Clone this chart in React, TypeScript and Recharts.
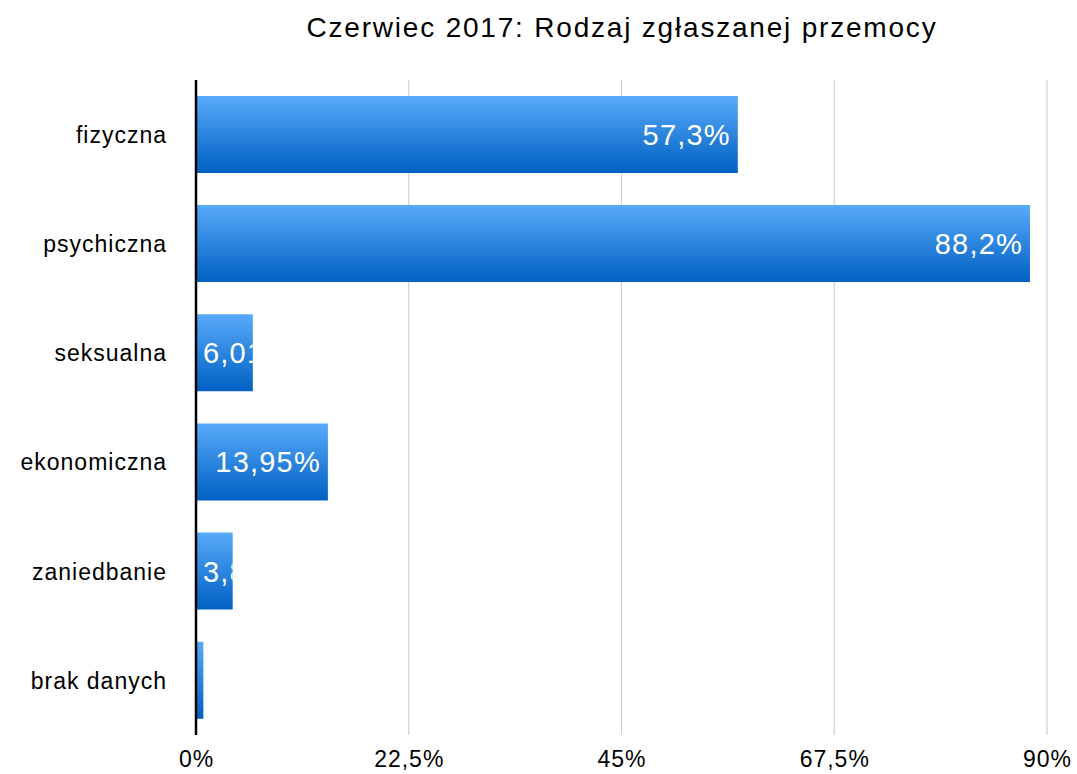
import React from "react";
import { BarChart, Bar, XAxis, YAxis, CartesianGrid, LabelList } from "recharts";

const categories = ["fizyczna", "psychiczna", "seksualna", "ekonomiczna", "zaniedbanie", "brak danych"];
const values = [57.3, 88.2, 6.01, 13.95, 3.88, 0.78];
const valueLabels = ["57,3%", "88,2%", "6,01%", "13,95%", "3,88%", "0,78%"];
const xTicks = [0, 22.5, 45, 67.5, 90];
const xTickLabels = ["0%", "22,5%", "45%", "67,5%", "90%"];
const title = "Czerwiec 2017: Rodzaj zgłaszanej przemocy";

const data = categories.map((c, i) => ({ name: c, value: values[i], label: valueLabels[i] }));

const FONT = "'Liberation Sans', Arial, Helvetica, sans-serif";
const LABEL_SIZE = 29;
const LABEL_LS = 1.2;

let measureCtx: CanvasRenderingContext2D | null = null;
function textWidth(t: string, size: number, ls: number) {
  if (!measureCtx) {
    const c = document.createElement("canvas");
    measureCtx = c.getContext("2d");
  }
  if (!measureCtx) return t.length * (size * 0.55 + ls);
  measureCtx.font = `${size}px ${FONT}`;
  return measureCtx.measureText(t).width + t.length * ls;
}

const BarLabel = (props: any) => {
  const { x, y, width, height, index } = props;
  const text = valueLabels[index];
  const w = textWidth(text, LABEL_SIZE, LABEL_LS);
  const pad = 7;
  const fits = w + 2 * pad <= width;
  const tx = fits ? x + width - pad - w : x + pad;
  const id = `clip-lbl-${index}`;
  return (
    <g>
      <defs>
        <clipPath id={id}>
          <rect x={x} y={y} width={width} height={height} />
        </clipPath>
      </defs>
      <text
        x={tx}
        y={y + height / 2}
        dy="0.36em"
        textAnchor="start"
        fill="#ffffff"
        fontSize={LABEL_SIZE}
        fontFamily={FONT}
        style={{ letterSpacing: LABEL_LS }}
        clipPath={`url(#${id})`}
      >
        {text}
      </text>
    </g>
  );
};

const YTick = (props: any) => {
  const { x, y, payload } = props;
  const t = String(payload.value);
  const w = textWidth(t, 23, 1);
  return (
    <text x={x - w} y={y} dy="0.36em" textAnchor="start" fontSize={23} fontFamily={FONT} fill="#000" style={{ letterSpacing: 1 }}>
      {t}
    </text>
  );
};

const XTick = (props: any) => {
  const { x, y, payload } = props;
  const t = xTickLabels[xTicks.indexOf(payload.value)];
  const w = textWidth(t, 23, 1);
  return (
    <text x={x - w / 2 + 0.5} y={y} dy="0.71em" textAnchor="start" fontSize={23} fontFamily={FONT} fill="#000" style={{ letterSpacing: 1 }}>
      {t}
    </text>
  );
};

export default function App() {
  const titleW = textWidth(title, 28, 1.8);
  return (
    <div style={{ position: "absolute", left: 0, top: 0, width: 1077, height: 774, background: "#fff" }}>
      <BarChart
        width={1077}
        height={774}
        data={data}
        layout="vertical"
        margin={{ top: 80, right: 30, left: 0, bottom: 0 }}
        barCategoryGap="14.6%"
      >
        <defs>
          <linearGradient id="barGrad" x1="0" y1="0" x2="0" y2="1">
            <stop offset="0%" stopColor="#58aafa" />
            <stop offset="100%" stopColor="#0060c2" />
          </linearGradient>
        </defs>
        <text x={622 - titleW / 2} y={37} textAnchor="start" fontSize={28} fontFamily={FONT} fill="#000" style={{ letterSpacing: 1.8 }}>
          {title}
        </text>
        <CartesianGrid horizontal={false} vertical={true} stroke="#cfcfcf" strokeWidth={1.2} />
        <XAxis
          type="number"
          domain={[0, 90]}
          ticks={xTicks}
          axisLine={false}
          tickLine={false}
          height={39}
          tickMargin={10}
          tick={<XTick />}
          interval={0}
        />
        <YAxis
          type="category"
          dataKey="name"
          width={196}
          axisLine={{ stroke: "#000", strokeWidth: 2.5 }}
          tickLine={false}
          tickMargin={23}
          tick={<YTick />}
          interval={0}
        />
        <Bar dataKey="value" fill="url(#barGrad)" isAnimationActive={false}>
          <LabelList dataKey="label" content={BarLabel} />
        </Bar>
      </BarChart>
    </div>
  );
}
